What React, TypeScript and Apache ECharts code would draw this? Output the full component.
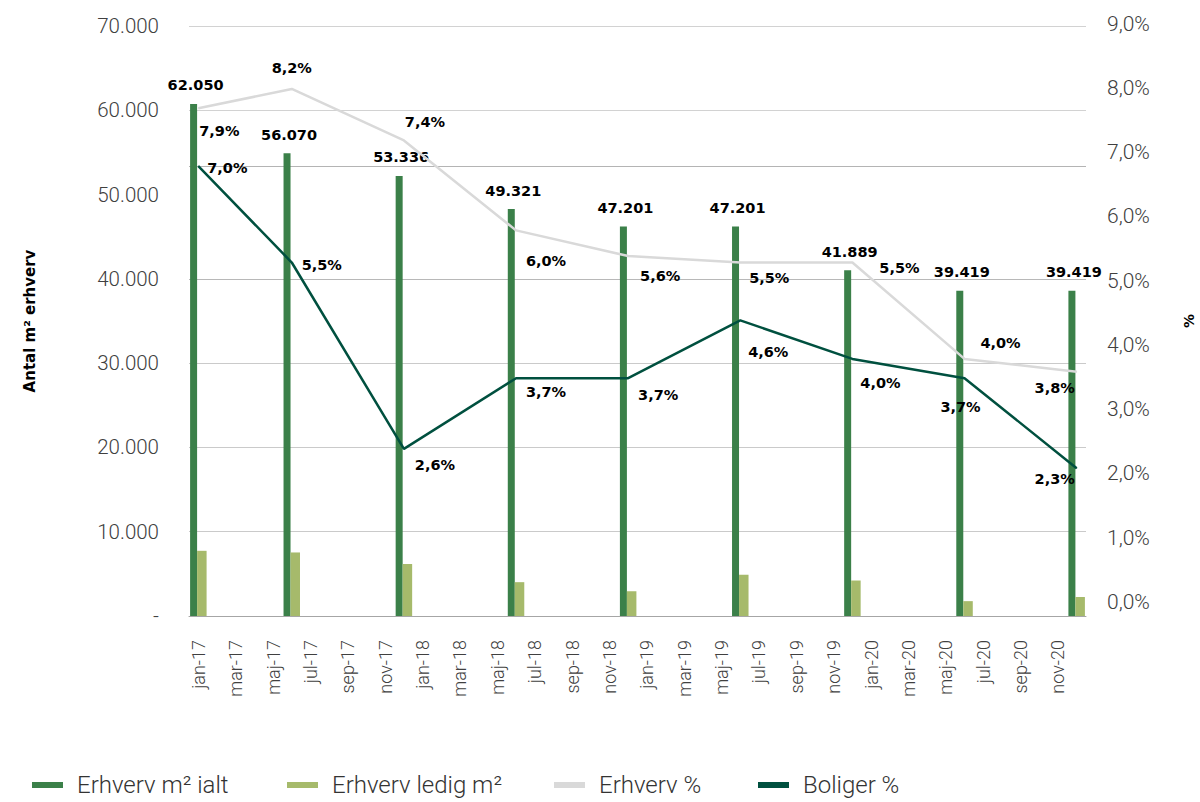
import React, { useEffect, useRef } from "react";
import * as echarts from "echarts";

// ---- categories ----
const monthNames = ["jan", "feb", "mar", "apr", "maj", "jun", "jul", "aug", "sep", "okt", "nov", "dec"];
const years = ["17", "18", "19", "20"];
const months = years.flatMap((y) => monthNames.map((m) => `${m}-${y}`));
const obsMonths = ["jan-17", "jun-17", "dec-17", "jun-18", "dec-18", "jun-19", "dec-19", "jun-20", "dec-20"];

// ---- series values ----
const erhvervIalt = [62050, 56070, 53336, 49321, 47201, 47201, 41889, 39419, 39419];
const erhvervLedig = [7900, 7700, 6300, 4100, 3000, 5000, 4300, 1800, 2300];
const erhvervPct = [7.9, 8.2, 7.4, 6.0, 5.6, 5.5, 5.5, 4.0, 3.8];
const boligerPct = [7.0, 5.5, 2.6, 3.7, 3.7, 4.6, 4.0, 3.7, 2.3];

// ---- label placement (style, not data) ----
const erhvervPctLabelOffsets = [[21, 23], [0, -21], [21, -18], [30, 31], [32, 20], [29, 15], [47, 5], [36, -16], [-22, 16]];
const boligerPctLabelOffsets = [[29, 2], [30, 2], [31, 16], [30, 14], [30, 17], [28, 32], [28, 24], [-4, 29], [-22, 11]];

const legendNames = ["Erhverv m² ialt", "Erhverv ledig m²", "Erhverv %", "Boliger %"];
const legendLefts = [32, 287, 554, 758];

const C_BAR = "#3b8049";
const C_BAR_LIGHT = "#a6ba6b";
const C_GRAY = "#d9d9d9";
const C_DARK = "#00503f";

const fmtThousands = (v: number) => String(Math.round(v)).replace(/\B(?=(\d{3})+(?!\d))/g, ".");
const fmtPct = (v: number) => v.toFixed(1).replace(".", ",") + "%";

function spread(values: number[], offsets?: number[][]) {
  return months.map((m) => {
    const i = obsMonths.indexOf(m);
    if (i < 0) return null;
    if (!offsets) return values[i];
    return { value: values[i], label: { offset: offsets[i] } };
  });
}

const AXIS_FONT = "Roboto, 'Noto Sans', sans-serif";
const BOLD_FONT = "'DejaVu Sans', sans-serif";

export default function App() {
  const ref = useRef<HTMLDivElement>(null);
  useEffect(() => {
    document.body.style.margin = "0";
    if (!ref.current) return;
    const chart = echarts.init(ref.current, undefined, { renderer: "svg" });
    const pctLabel = {
      show: true,
      position: "inside",
      fontFamily: BOLD_FONT,
      fontWeight: "bold",
      fontSize: 14.5,
      color: "#000",
      formatter: (p: any) => fmtPct(Number(p.value)),
    };
    chart.setOption({
      animation: false,
      backgroundColor: "#fff",
      grid: { left: 189, right: 114, top: 26, bottom: 186, containLabel: false, outerBoundsMode: "none" },
      legend: legendNames.map((name, i) => ({
        data: [name],
        left: legendLefts[i],
        top: 773,
        padding: 0,
        icon: "rect",
        itemWidth: 31,
        itemHeight: 6,
        selectedMode: false,
        textStyle: { fontFamily: AXIS_FONT, fontWeight: 300, fontSize: 24, color: "#333", padding: [0, 0, 0, 9] },
      })),
      xAxis: {
        type: "category",
        data: months,
        boundaryGap: true,
        axisTick: { show: false },
        axisLine: { lineStyle: { color: "#a6a6a6", width: 1 } },
        axisLabel: {
          interval: 1,
          rotate: 90,
          margin: 24,
          fontFamily: AXIS_FONT,
          fontWeight: 300,
          fontSize: 18,
          color: "#404040",
        },
      },
      yAxis: [
        {
          type: "value",
          min: 0,
          max: 70000,
          interval: 10000,
          name: "Antal m² erhverv",
          nameLocation: "middle",
          nameGap: 152,
          nameTextStyle: { fontFamily: BOLD_FONT, fontWeight: "bold", fontSize: 15, color: "#000" },
          axisLine: { show: false },
          axisTick: { show: false },
          axisLabel: {
            margin: 30,
            fontFamily: AXIS_FONT,
            fontWeight: 300,
            fontSize: 20.5,
            color: "#404040",
            formatter: (v: number) => (v === 0 ? "-" : fmtThousands(v)),
          },
          splitLine: {
            lineStyle: {
              color: ["#c4c4c4", "#cacaca", "#cacaca", "#cacaca", "#b8b8b8", "transparent", "#d2d2d2", "#d2d2d2"],
              width: 1,
            },
          },
        },
        {
          type: "value",
          min: 0,
          max: 9.18,
          interval: 1,
          name: "%",
          nameLocation: "middle",
          nameGap: 96,
          nameRotate: 90,
          nameTextStyle: { fontFamily: BOLD_FONT, fontWeight: "bold", fontSize: 14, color: "#000" },
          axisLine: { show: false },
          axisTick: { show: false },
          splitLine: { show: false },
          axisLabel: {
            margin: 21,
            verticalAlign: "bottom",
            lineHeight: 28,
            fontFamily: AXIS_FONT,
            fontWeight: 300,
            fontSize: 21,
            color: "#404040",
            formatter: (v: number) => (Math.abs(v - Math.round(v)) < 1e-6 ? fmtPct(v) : ""),
          },
        },
        {
          // scale used by the bars in the original figure (slightly offset from the printed ticks)
          type: "value",
          min: 0,
          max: 71500,
          show: false,
          position: "left",
          splitLine: { show: false },
        },
      ],
      series: [
        {
          name: legendNames[0],
          type: "bar",
          yAxisIndex: 2,
          barWidth: 7,
          barGap: "0%",
          itemStyle: { color: C_BAR },
          data: spread(erhvervIalt),
          label: {
            show: true,
            position: "top",
            distance: 11,
            offset: [2, 0],
            fontFamily: BOLD_FONT,
            fontWeight: "bold",
            fontSize: 14.5,
            color: "#000",
            formatter: (p: any) => fmtThousands(Number(p.value)),
          },
          z: 2,
        },
        {
          name: legendNames[1],
          type: "bar",
          yAxisIndex: 2,
          barWidth: 9.5,
          barGap: "0%",
          itemStyle: { color: C_BAR_LIGHT },
          data: spread(erhvervLedig),
          z: 2,
        },
        {
          name: legendNames[2],
          type: "line",
          yAxisIndex: 1,
          connectNulls: true,
          symbol: "circle",
          symbolSize: 1,
          showSymbol: true,
          lineStyle: { color: C_GRAY, width: 2.5 },
          itemStyle: { color: C_GRAY },
          data: spread(erhvervPct, erhvervPctLabelOffsets),
          label: pctLabel,
          markLine: {
            silent: true,
            symbol: "none",
            label: { show: false },
            lineStyle: { color: "#b4b4b4", width: 1, type: "solid" },
            data: [{ yAxis: 7 }],
            z: 1,
          },
          z: 3,
        },
        {
          name: legendNames[3],
          type: "line",
          yAxisIndex: 1,
          connectNulls: true,
          symbol: "circle",
          symbolSize: 1,
          showSymbol: true,
          lineStyle: { color: C_DARK, width: 2.5 },
          itemStyle: { color: C_DARK },
          data: spread(boligerPct, boligerPctLabelOffsets),
          label: pctLabel,
          z: 4,
        },
      ],
    });
    return () => chart.dispose();
  }, []);
  return <div ref={ref} style={{ width: 1200, height: 802 }} />;
}
